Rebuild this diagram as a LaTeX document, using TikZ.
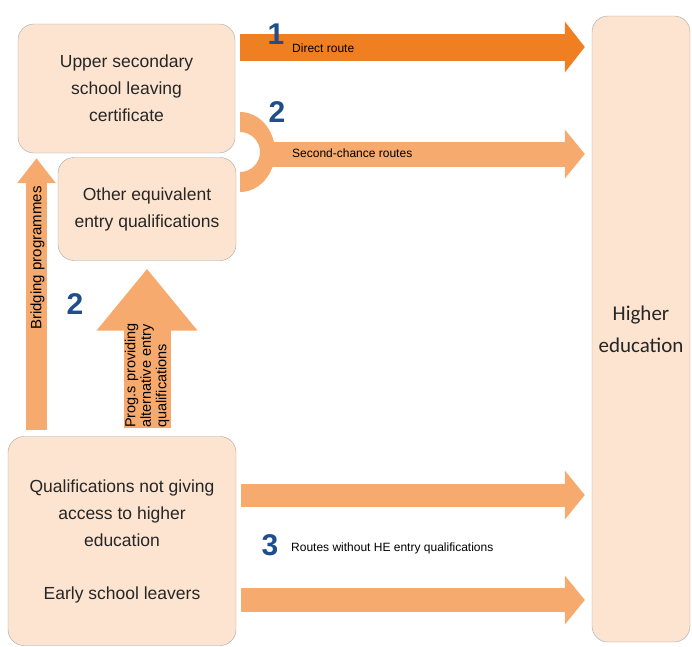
\documentclass[tikz,border=0pt]{standalone}
\usepackage{fontspec}
\setmainfont{Liberation Sans}
\newfontfamily\calibrifont{Carlito}
\usetikzlibrary{arrows.meta}

\definecolor{boxfill}{HTML}{FCE4D0}
\definecolor{boxline}{HTML}{A6A6A6}
\definecolor{routedark}{HTML}{F07F22}
\definecolor{routelight}{HTML}{F6AA6E}
\definecolor{numblue}{HTML}{1F4E8C}

\begin{document}
\begin{tikzpicture}[x=1pt, y=-1pt,
  qualbox/.style={draw=boxline, fill=boxfill, rounded corners=16pt, align=center,
    inner sep=0pt, text=black!85, font=\fontsize{17.5}{27}\selectfont},
  darkroute/.style={draw=routedark, line width=27pt, -{Triangle[length=20pt,width=50pt]}},
  lightroute/.style={draw=routelight, line width=24pt, -{Triangle[length=20pt,width=48pt]}},
  routenum/.style={text=numblue, inner sep=0pt, font=\fontsize{30}{30}\selectfont\bfseries},
  routelabel/.style={inner sep=0pt, font=\fontsize{12}{14}\selectfont}]
  \useasboundingbox (0,0) rectangle (692,646);

  % Boxes
  \node[qualbox, minimum width=217pt, minimum height=129pt] (upper) at (126.5,88.5)
    {Upper secondary\\school leaving\\certificate};
  \node[qualbox, minimum width=178pt, minimum height=103pt] (equiv) at (147,209)
    {Other equivalent\\entry qualifications};
  \node[qualbox, minimum width=228pt, minimum height=209pt] (noaccess) at (122,541)
    {Qualifications not giving\\access to higher\\education\\[26pt]Early school leavers};
  \node[qualbox, minimum width=98pt, minimum height=626pt,
    font=\calibrifont\fontsize{21}{32}\selectfont] (higher) at (641,329) {Higher\\education};

  % Route 1
  \draw[darkroute, shorten <=5pt, shorten >=7pt] (upper.east |- 0,47) -- (higher.west |- 0,47);
  \node[routenum] (num1) at (276,34) {1};
  \node[routelabel, anchor=west] (directlbl) at (292,48) {Direct route};

  % Route 2: bracket and arrow
  \fill[routelight] (240,112) .. controls (259.3,112) and (275,129.9) .. (275,152)
    .. controls (275,174.1) and (259.3,192) .. (240,192) -- (240,172)
    .. controls (251,172) and (260,163) .. (260,152)
    .. controls (260,141) and (251,132) .. (240,132) -- cycle;
  \draw[lightroute, line width=25pt, shorten <=27pt, shorten >=7pt]
    (upper.east |- 0,154) -- (higher.west |- 0,154);
  \node[routenum] (num2a) at (277,112) {2};
  \node[routelabel, anchor=west] (secondlbl) at (292,153) {Second-chance routes};

  % Route 2: upward programmes
  \coordinate (bridgefoot) at (36.5,430);
  \coordinate (progfoot) at (147,428);
  \draw[draw=routelight, line width=21pt, -{Triangle[length=25pt,width=37pt]}, shorten >=5pt]
    (bridgefoot) -- (bridgefoot |- upper.south);
  \draw[draw=routelight, line width=47pt, -{Triangle[length=62pt,width=97pt]}, shorten >=8pt]
    (progfoot) -- (equiv.south);
  \node[rotate=90, inner sep=0pt, font=\fontsize{15}{15}\selectfont] (bridgelbl) at (37.5,258)
    {Bridging programmes};
  \node[rotate=90, anchor=west, align=left, inner sep=0pt,
    font=\fontsize{14.5}{15.5}\selectfont] (proglbl) at (progfoot) {Prog.s providing\\alternative entry\\qualifications};
  \node[routenum] (num2b) at (75,304) {2};

  % Route 3
  \draw[lightroute, line width=23pt, shorten <=5pt, shorten >=7pt]
    (noaccess.east |- 0,495) -- (higher.west |- 0,495);
  \draw[lightroute, shorten <=5pt, shorten >=7pt]
    (noaccess.east |- 0,600) -- (higher.west |- 0,600);
  \node[routenum] (num3) at (270,545) {3};
  \node[routelabel, anchor=west] (withoutlbl) at (291,548) {Routes without HE entry qualifications};
\end{tikzpicture}
\end{document}
